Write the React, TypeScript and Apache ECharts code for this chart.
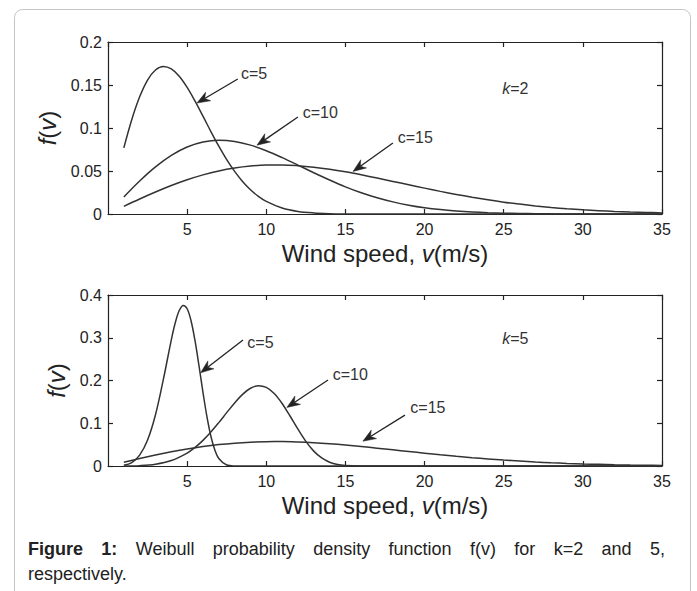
import React, { useEffect, useRef } from 'react';
import * as echarts from 'echarts';

const FONT = '"Liberation Sans", Arial, Helvetica, sans-serif';
const INK = '#222';
const CURVE = '#333';

// ---- data ----
// top panel, k=2
const k2c5V = [1, 1.5, 2, 2.5, 3, 3.5, 4, 4.5, 5, 5.5, 6, 6.5, 7, 7.5, 8, 8.5, 9, 9.5, 10, 11, 12, 13, 14, 15, 16, 18, 20, 25, 30, 35];
const k2c5F = [0.0769, 0.1097, 0.1363, 0.1558, 0.1674, 0.1715, 0.1687, 0.1602, 0.1472, 0.1312, 0.1137, 0.0959, 0.0789, 0.0632, 0.0495, 0.0378, 0.0282, 0.0206, 0.0147, 0.007, 0.003, 0.0012, 0.0004, 0.0001, 0, 0, 0, 0, 0, 0];
const v1to35 = [1, 2, 3, 4, 5, 6, 7, 8, 9, 10, 11, 12, 13, 14, 15, 16, 17, 18, 19, 20, 21, 22, 23, 24, 25, 26, 27, 28, 29, 30, 31, 32, 33, 34, 35];
const k2c10F = [0.0198, 0.0384, 0.0548, 0.0682, 0.0779, 0.0837, 0.0858, 0.0844, 0.0801, 0.0736, 0.0656, 0.0569, 0.048, 0.0395, 0.0316, 0.0247, 0.0189, 0.0141, 0.0103, 0.0073, 0.0051, 0.0035, 0.0023, 0.0015, 0.001, 0.0006, 0.0004, 0.0002, 0.0001, 0, 0, 0, 0, 0, 0];
const k2c15F = [0.0089, 0.0175, 0.0256, 0.0331, 0.0398, 0.0455, 0.0501, 0.0535, 0.0558, 0.057, 0.0571, 0.0562, 0.0545, 0.0521, 0.0491, 0.0456, 0.0418, 0.0379, 0.034, 0.0301, 0.0263, 0.0228, 0.0195, 0.0165, 0.0138, 0.0115, 0.0094, 0.0076, 0.0061, 0.0049, 0.0039, 0.003, 0.0023, 0.0018, 0.0013];
// bottom panel, k=5
const k5c5V = [1, 1.5, 2, 2.5, 3, 3.5, 4, 4.25, 4.5, 4.75, 5, 5.25, 5.5, 5.75, 6, 6.25, 6.5, 6.75, 7, 7.5, 8, 8.5, 10, 15, 20, 25, 30, 35];
const k5c5F = [0.0016, 0.0081, 0.0253, 0.0606, 0.1199, 0.203, 0.2952, 0.335, 0.3636, 0.3757, 0.3679, 0.3392, 0.2925, 0.234, 0.1723, 0.1155, 0.0697, 0.0375, 0.0177, 0.0025, 0.0002, 0, 0, 0, 0, 0, 0, 0];
const k5c10V = [1, 2, 3, 4, 5, 5.5, 6, 6.5, 7, 7.5, 8, 8.5, 9, 9.5, 10, 10.5, 11, 11.5, 12, 12.5, 13, 13.5, 14, 14.5, 15, 16, 17, 20, 25, 30, 35];
const k5c10F = [0.0001, 0.0008, 0.004, 0.0127, 0.0303, 0.0435, 0.06, 0.0795, 0.1015, 0.1248, 0.1476, 0.1675, 0.1818, 0.1879, 0.1839, 0.1696, 0.1463, 0.117, 0.0862, 0.0577, 0.0348, 0.0188, 0.0089, 0.0036, 0.0013, 0.0001, 0, 0, 0, 0, 0];
const k5c15F = [0.0088, 0.0175, 0.0256, 0.0331, 0.0398, 0.0455, 0.0501, 0.0535, 0.0558, 0.057, 0.0571, 0.0562, 0.0545, 0.0521, 0.0491, 0.0456, 0.0418, 0.0379, 0.034, 0.0301, 0.0263, 0.0228, 0.0195, 0.0165, 0.0138, 0.0115, 0.0094, 0.0076, 0.0061, 0.0049, 0.0039, 0.003, 0.0023, 0.0018, 0.0013];

const xMin = 0, xMax = 35, xStep = 5;
const yMaxTop = 0.2, yStepTop = 0.05;
const yMaxBot = 0.4, yStepBot = 0.1;

const xTitle = 'Wind speed, {i|v}(m/s)';
const yTitle = '{i|f}({i|v})';
const captionLine1 = [['Figure', true], ['1:', true], ['Weibull', false], ['probability', false], ['density', false], ['function', false], ['f(v)', false], ['for', false], ['k=2', false], ['and', false], ['5,', false]] as [string, boolean][];
const captionLine2 = 'respectively.';

// annotations in data coordinates: [v, f]
const annotations = [
  { g: 0, label: 'c=5', text: [8.4, 0.163], tail: [8.2, 0.157], tip: [5.62, 0.129] },
  { g: 0, label: 'c=10', text: [12.3, 0.1186], tail: [12.0, 0.1128], tip: [9.41, 0.08] },
  { g: 0, label: 'c=15', text: [18.3, 0.0884], tail: [18.0, 0.0826], tip: [15.48, 0.0495] },
  { g: 1, label: 'c=5', text: [8.8, 0.288], tail: [8.53, 0.2947], tip: [5.85, 0.218] },
  { g: 1, label: 'c=10', text: [14.2, 0.213], tail: [13.9, 0.201], tip: [11.3, 0.137] },
  { g: 1, label: 'c=15', text: [19.1, 0.1357], tail: [18.76, 0.119], tip: [16.1, 0.058] },
];
const kLabels = [
  { g: 0, text: '{i|k}=2', at: [24.9, 0.1465] },
  { g: 1, text: '{i|k}=5', at: [24.9, 0.299] },
];

const zip = (xs: number[], ys: number[]) => xs.map((x, i) => [x, ys[i]]);

const TICK_FS = 16;
const NAME_FS = 24;

function makeXAxes(g: number) {
  const line = { color: INK, width: 1.2 };
  return [
    {
      type: 'value', gridIndex: g, position: 'bottom', min: xMin, max: xMax, interval: xStep,
      axisLine: { show: true, onZero: false, lineStyle: line },
      axisTick: { show: true, inside: true, length: 5, lineStyle: line },
      axisLabel: { showMinLabel: false, color: INK, fontSize: TICK_FS, fontFamily: FONT, margin: 7 },
      splitLine: { show: false },
      name: xTitle, nameLocation: 'middle', nameGap: 27,
      nameTextStyle: {
        color: INK, fontSize: NAME_FS, fontFamily: FONT,
        rich: { i: { fontStyle: 'italic', fontSize: NAME_FS, fontFamily: FONT, color: INK } },
      },
    },
    {
      type: 'value', gridIndex: g, position: 'top', min: xMin, max: xMax, interval: xStep,
      axisLine: { show: true, onZero: false, lineStyle: line },
      axisTick: { show: true, inside: true, length: 5, lineStyle: line },
      axisLabel: { show: false }, splitLine: { show: false },
    },
  ];
}

function makeYAxes(g: number, max: number, step: number, gap: number) {
  const line = { color: INK, width: 1.2 };
  return [
    {
      type: 'value', gridIndex: g, position: 'left', min: 0, max, interval: step,
      axisLine: { show: true, onZero: false, lineStyle: line },
      axisTick: { show: true, inside: true, length: 5, lineStyle: line },
      axisLabel: { color: INK, fontSize: TICK_FS, fontFamily: FONT, margin: 6 },
      splitLine: { show: false },
      name: yTitle, nameLocation: 'middle', nameGap: gap, nameRotate: 90,
      nameTextStyle: {
        color: INK, fontSize: NAME_FS, fontFamily: FONT,
        rich: { i: { fontStyle: 'italic', fontSize: NAME_FS, fontFamily: FONT, color: INK } },
      },
    },
    {
      type: 'value', gridIndex: g, position: 'right', min: 0, max, interval: step,
      axisLine: { show: true, onZero: false, lineStyle: line },
      axisTick: { show: true, inside: true, length: 5, lineStyle: line },
      axisLabel: { show: false }, splitLine: { show: false },
    },
  ];
}

function lineSeries(xi: number, data: number[][]) {
  return {
    type: 'line', xAxisIndex: xi, yAxisIndex: xi, data,
    smooth: 0.35, showSymbol: false, symbol: 'none', silent: true,
    lineStyle: { color: CURVE, width: 1.5 },
  };
}

export default function App() {
  const ref = useRef<HTMLDivElement>(null);
  useEffect(() => {
    const chart = echarts.init(ref.current!, null, { renderer: 'svg' });
    const option: any = {
      animation: false,
      backgroundColor: '#fff',
      grid: [
        { left: 108, top: 42, width: 554, height: 172 },
        { left: 108, top: 295, width: 554, height: 171 },
      ],
      xAxis: [...makeXAxes(0), ...makeXAxes(1)],
      yAxis: [...makeYAxes(0, yMaxTop, yStepTop, 48), ...makeYAxes(1, yMaxBot, yStepBot, 37)],
      series: [
        lineSeries(0, zip(k2c5V, k2c5F)),
        lineSeries(0, zip(v1to35, k2c10F)),
        lineSeries(0, zip(v1to35, k2c15F)),
        lineSeries(2, zip(k5c5V, k5c5F)),
        lineSeries(2, zip(k5c10V, k5c10F)),
        lineSeries(2, zip(v1to35, k5c15F)),
      ],
    };
    chart.setOption(option);

    const toPx = (g: number, p: number[]) =>
      chart.convertToPixel({ xAxisIndex: g * 2, yAxisIndex: g * 2 } as any, p) as number[];

    const graphics: any[] = [];
    // card border
    graphics.push({
      type: 'rect', shape: { x: 14.5, y: 9.5, width: 676, height: 620, r: 8 },
      style: { fill: 'none', stroke: '#c4c4c4', lineWidth: 1 }, silent: true, z: 0,
    });

    // arrows + labels
    annotations.forEach((a) => {
      const tail = toPx(a.g, a.tail);
      const tip = toPx(a.g, a.tip);
      const dx = tip[0] - tail[0], dy = tip[1] - tail[1];
      const len = Math.hypot(dx, dy);
      const ux = dx / len, uy = dy / len;
      const nx = -uy, ny = ux;
      const L = 13, Wd = 5, notch = 4;
      const bx = tip[0] - L * ux, by = tip[1] - L * uy;
      const mx = tip[0] - (L - notch) * ux, my = tip[1] - (L - notch) * uy;
      graphics.push({
        type: 'line', shape: { x1: tail[0], y1: tail[1], x2: mx, y2: my },
        style: { stroke: INK, lineWidth: 1.3 }, silent: true, z: 10,
      });
      graphics.push({
        type: 'polygon',
        shape: { points: [[tip[0], tip[1]], [bx + Wd * nx, by + Wd * ny], [mx, my], [bx - Wd * nx, by - Wd * ny]] },
        style: { fill: INK, stroke: INK, lineWidth: 0.5 }, silent: true, z: 10,
      });
      const tp = toPx(a.g, a.text);
      graphics.push({
        type: 'text', x: tp[0], y: tp[1], silent: true, z: 10,
        style: {
          text: a.label, fill: '#333', fontSize: 16, fontFamily: FONT,
          align: 'left', verticalAlign: 'middle', textAlign: 'left', textVerticalAlign: 'middle',
        },
      });
    });
    kLabels.forEach((k) => {
      const p = toPx(k.g, k.at);
      graphics.push({
        type: 'text', x: p[0], y: p[1], silent: true, z: 10,
        style: {
          text: k.text, fill: '#333', fontSize: 16, fontFamily: FONT,
          align: 'left', verticalAlign: 'middle', textAlign: 'left', textVerticalAlign: 'middle',
          rich: { i: { fontStyle: 'italic', fontSize: 16, fontFamily: FONT, fill: '#333', color: '#333' } },
        },
      });
    });

    // caption, justified first line
    const ctx = document.createElement('canvas').getContext('2d')!;
    const CAP = 18;
    const measure = (t: string, bold: boolean) => {
      ctx.font = `${bold ? 'bold ' : ''}${CAP}px ${FONT}`;
      return ctx.measureText(t).width;
    };
    const left = 28, right = 665, y1 = 549, y2 = 574;
    const widths = captionLine1.map(([t, b]) => measure(t, b));
    const total = widths.reduce((s, w) => s + w, 0);
    const gap = (right - left - total) / (captionLine1.length - 1);
    let cx = left;
    captionLine1.forEach(([t, b], i) => {
      graphics.push({
        type: 'text', x: cx, y: y1, silent: true,
        style: {
          text: t, fill: INK, fontSize: CAP, fontFamily: FONT, fontWeight: b ? 'bold' : 'normal',
          align: 'left', verticalAlign: 'middle', textAlign: 'left', textVerticalAlign: 'middle',
        },
      });
      cx += widths[i] + gap;
    });
    graphics.push({
      type: 'text', x: left, y: y2, silent: true,
      style: {
        text: captionLine2, fill: INK, fontSize: CAP, fontFamily: FONT,
        align: 'left', verticalAlign: 'middle', textAlign: 'left', textVerticalAlign: 'middle',
      },
    });

    chart.setOption({ graphic: graphics });
    return () => chart.dispose();
  }, []);
  return <div ref={ref} style={{ position: 'absolute', left: 0, top: 0, width: 697, height: 591 }} />;
}
